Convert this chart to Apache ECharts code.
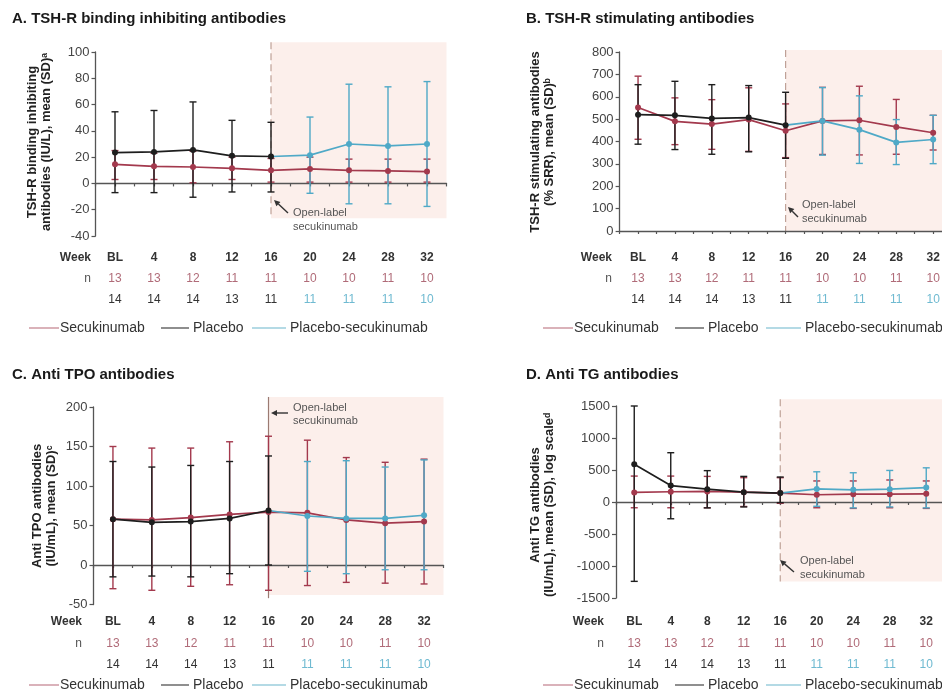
<!DOCTYPE html>
<html>
<head>
<meta charset="utf-8">
<script src="https://cdn.jsdelivr.net/npm/echarts@6/dist/echarts.min.js"></script>
<style>
html,body{margin:0;padding:0;background:#fff;}
#main{width:942px;height:692px;}
</style>
</head>
<body>
<div id="main"></div>
<script>
// ---------- shared data ----------
const weeks = [0, 4, 8, 12, 16, 20, 24, 28, 32];
const weekLabels = ['BL', '4', '8', '12', '16', '20', '24', '28', '32'];
const nSecukinumab = [13, 13, 12, 11, 11, 10, 10, 11, 10];
const nPlacebo = [14, 14, 14, 13, 11];          // weeks BL..16
const nPlaceboSecukinumab = [11, 11, 11, 10];   // weeks 20..32
const placeboWeeks = [0, 4, 8, 12, 16];
const psWeeks = [20, 24, 28, 32];

// ---------- Panel A: TSH-R binding inhibiting antibodies ----------
const aSecMean = [14.5, 13, 12.5, 11.5, 10, 11, 10, 9.5, 9];
const aSecHigh = [25, 23, 24.5, 20, 19, 20, 18.5, 18.5, 18.5];
const aSecLow = [3, 3, 0.5, 3, 1, 1, 1, 1, 1];
const aPlaMean = [23.5, 24, 25.5, 21, 20.5];
const aPlaHigh = [54.5, 55.5, 62, 48, 46.5];
const aPlaLow = [-7, -7, -10.5, -6.5, -6.5];
const aPsMean = [21.5, 30, 28.5, 30];
const aPsHigh = [50.5, 75.5, 73.5, 77.5];
const aPsLow = [-7.5, -15.5, -15.5, -17.5];
const aTicks = [-40, 100, 20];

// ---------- Panel B: TSH-R stimulating antibodies ----------
const bSecMean = [552, 490, 478, 498, 448, 492, 495, 465, 439];
const bSecHigh = [692, 595, 587, 640, 568, 642, 647, 588, 517];
const bSecLow = [410, 386, 365, 356, 328, 342, 340, 343, 362];
const bPlaMean = [520, 517, 503, 507, 473];
const bPlaHigh = [654, 669, 654, 650, 620];
const bPlaLow = [388, 364, 343, 354, 325];
const bPsMean = [492, 453, 396, 409];
const bPsHigh = [641, 604, 498, 517];
const bPsLow = [339, 302, 297, 301];
const bTicks = [0, 800, 100];

// ---------- Panel C: Anti TPO antibodies ----------
const cSecMean = [58, 57, 60, 64, 67, 66, 57, 53, 55];
const cSecHigh = [150, 148, 148, 156, 163, 158, 136, 130, 134];
const cSecLow = [-30, -32, -27, -25, -32, -26, -22, -23, -24];
const cPlaMean = [58, 54, 55, 59, 69];
const cPlaHigh = [131, 124, 126, 131, 138];
const cPlaLow = [-15, -14, -15, -11, 0];
const cPsMean = [62, 59, 59, 63];
const cPsHigh = [131, 132, 124, 133];
const cPsLow = [-8, -11, -6, -6];
const cTicks = [-50, 200, 50];

// ---------- Panel D: Anti TG antibodies ----------
const dSecMean = [149, 160, 165, 154, 139, 113, 123, 123, 128];
const dSecHigh = [405, 405, 400, 380, 380, 329, 329, 344, 329];
const dSecLow = [-90, -90, -90, -70, -20, -90, -100, -90, -100];
const dPlaMean = [590, 257, 200, 154, 139];
const dPlaHigh = [1500, 770, 490, 400, 390];
const dPlaLow = [-1240, -262, -92, -77, -10];
const dPsMean = [205, 190, 200, 226];
const dPsHigh = [472, 457, 493, 534];
const dPsLow = [-67, -92, -77, -92];
const dTicks = [-1500, 1500, 500];

// ---------- styling / layout ----------
const RED = '#a3394d', BLACK = '#1e1e1e', BLUE = '#4fa9c7';
const SHADE = '#fcefeb';
const FONT = '"Liberation Sans", Arial, sans-serif';

const panels = [
  { title: 'A. TSH-R binding inhibiting antibodies', titleX: 12, titleY: 19,
    grid: { left: 95.5, top: 52, width: 351, height: 184 }, ticks: aTicks,
    sec: [aSecMean, aSecLow, aSecHigh], pla: [aPlaMean, aPlaLow, aPlaHigh], ps: [aPsMean, aPsLow, aPsHigh],
    shade: [107.5, -26.4], lineEnd: -26.4, dashed: true,
    yName: 'TSH-R binding inhibiting\nantibodies (IU/L), mean (SD)ᵃ', yNameX: 39, yNameY: 142,
    weekRowY: 258, nRowY: 279, n2RowY: 300, legendY: 328, labelRight: 91,
    legendX: [29, 161, 252], legendLen: [30, 28, 34],
    note: { x: 293, y1: 213, y2: 227, ax1: 288, ay1: 213, ax2: 274, ay2: 200 } },
  { title: 'B. TSH-R stimulating antibodies', titleX: 526, titleY: 19,
    grid: { left: 619.6, top: 52, width: 332, height: 179 }, ticks: bTicks,
    sec: [bSecMean, bSecLow, bSecHigh], pla: [bPlaMean, bPlaLow, bPlaHigh], ps: [bPsMean, bPsLow, bPsHigh],
    shade: [809, 0], lineEnd: 0, dashed: true,
    yName: 'TSH-R stimulating antibodies\n(% SRR), mean (SD)ᵇ', yNameX: 542, yNameY: 142,
    weekRowY: 258, nRowY: 279, n2RowY: 300, legendY: 328, labelRight: 612,
    legendX: [543, 675, 766], legendLen: [30, 29, 35],
    note: { x: 802, y1: 205, y2: 219, ax1: 798, ay1: 217, ax2: 788, ay2: 207 } },
  { title: 'C. Anti TPO antibodies', titleX: 12, titleY: 375,
    grid: { left: 93.5, top: 407, width: 350, height: 197.5 }, ticks: cTicks,
    sec: [cSecMean, cSecLow, cSecHigh], pla: [cPlaMean, cPlaLow, cPlaHigh], ps: [cPsMean, cPsLow, cPsHigh],
    shade: [212.7, -38], lineEnd: -42, dashed: false,
    yName: 'Anti TPO antibodies\n(IU/mL), mean (SD)ᶜ', yNameX: 44, yNameY: 506,
    weekRowY: 622, nRowY: 644, n2RowY: 665, legendY: 685, labelRight: 82,
    legendX: [29, 161, 252], legendLen: [30, 28, 34],
    note: { x: 293, y1: 408, y2: 421, ax1: 288, ay1: 413, ax2: 271, ay2: 413 } },
  { title: 'D. Anti TG antibodies', titleX: 526, titleY: 375,
    grid: { left: 616, top: 406, width: 328.5, height: 192 }, ticks: dTicks,
    sec: [dSecMean, dSecLow, dSecHigh], pla: [dPlaMean, dPlaLow, dPlaHigh], ps: [dPsMean, dPsLow, dPsHigh],
    shade: [1607, -1243], lineEnd: -1243, dashed: true,
    yName: 'Anti TG antibodies\n(IU/mL), mean (SD), log scaleᵈ', yNameX: 542, yNameY: 505,
    weekRowY: 622, nRowY: 644, n2RowY: 665, legendY: 685, labelRight: 604,
    legendX: [543, 675, 766], legendLen: [30, 29, 35],
    note: { x: 800, y1: 561, y2: 575, ax1: 794, ay1: 572, ax2: 780, ay2: 560 } }
];

function errRender(color) {
  return function (params, api) {
    const x = api.value(0), lo = api.value(1), hi = api.value(2);
    const pLo = api.coord([x, lo]), pHi = api.coord([x, hi]);
    const w = 3.5;
    const st = { stroke: color, lineWidth: 1.4 };
    return { type: 'group', children: [
      { type: 'line', shape: { x1: pLo[0], y1: pLo[1], x2: pHi[0], y2: pHi[1] }, style: st },
      { type: 'line', shape: { x1: pLo[0] - w, y1: pLo[1], x2: pLo[0] + w, y2: pLo[1] }, style: st },
      { type: 'line', shape: { x1: pHi[0] - w, y1: pHi[1], x2: pHi[0] + w, y2: pHi[1] }, style: st }
    ]};
  };
}

const grids = [], xAxes = [], yAxes = [], series = [];
panels.forEach((p, i) => {
  grids.push(Object.assign({ containLabel: false, outerBoundsMode: 'none' }, p.grid));
  xAxes.push({
    type: 'value', gridIndex: i, min: -2, max: 34, interval: 2,
    axisLine: { onZero: true, lineStyle: { color: '#555', width: 1.3 } },
    axisTick: { show: true, inside: false, length: 3, lineStyle: { color: '#555', width: 1.2 } },
    axisLabel: { show: false }, splitLine: { show: false }
  });
  yAxes.push({
    type: 'value', gridIndex: i, min: p.ticks[0], max: p.ticks[1], interval: p.ticks[2],
    axisLine: { show: true, onZero: false, lineStyle: { color: '#555', width: 1.3 } },
    axisTick: { show: true, inside: false, length: 4, lineStyle: { color: '#555', width: 1.2 } },
    axisLabel: { color: '#444', fontSize: 13, fontFamily: FONT, margin: 6, formatter: v => String(v) },
    splitLine: { show: false }
  });
  // shaded open-label region + vertical line at week 16
  series.push({
    type: 'custom', xAxisIndex: i, yAxisIndex: i, z: 0, silent: true, clip: false,
    data: [[16, p.shade[0], p.shade[1], p.lineEnd]],
    renderItem: function (params, api) {
      const a = api.coord([api.value(0), api.value(1)]);
      const b = api.coord([34, api.value(2)]);
      const e = api.coord([api.value(0), api.value(3)]);
      return { type: 'group', children: [
        { type: 'rect', shape: { x: a[0], y: a[1], width: b[0] - a[0], height: b[1] - a[1] }, style: { fill: SHADE } },
        { type: 'line', shape: { x1: a[0], y1: a[1], x2: e[0], y2: e[1] },
          style: { stroke: p.dashed ? '#bfa197' : '#9b7a72', lineWidth: 1.2, lineDash: p.dashed ? [7, 4] : null } }
      ]};
    }
  });
  const secErr = weeks.map((w, k) => [w, p.sec[1][k], p.sec[2][k]]);
  const plaErr = placeboWeeks.map((w, k) => [w, p.pla[1][k], p.pla[2][k]]);
  const psErr = psWeeks.map((w, k) => [w, p.ps[1][k], p.ps[2][k]]);
  series.push({ type: 'custom', name: 'Secukinumab', xAxisIndex: i, yAxisIndex: i, z: 2, clip: false,
    renderItem: errRender(RED), data: secErr, encode: { x: 0, y: [1, 2] } });
  series.push({ type: 'custom', name: 'Placebo-secukinumab', xAxisIndex: i, yAxisIndex: i, z: 2, clip: false,
    renderItem: errRender(BLUE), data: psErr, encode: { x: 0, y: [1, 2] } });
  series.push({ type: 'custom', name: 'Placebo', xAxisIndex: i, yAxisIndex: i, z: 2, clip: false,
    renderItem: errRender(BLACK), data: plaErr, encode: { x: 0, y: [1, 2] } });

  const lineCommon = { type: 'line', xAxisIndex: i, yAxisIndex: i, z: 3, symbol: 'circle', symbolSize: 6,
    clip: false, lineStyle: { width: 1.7 } };
  series.push(Object.assign({}, lineCommon, { name: 'Secukinumab', color: RED,
    data: weeks.map((w, k) => [w, p.sec[0][k]]) }));
  const psLine = [{ value: [16, p.pla[0][4]], symbol: 'none' }].concat(psWeeks.map((w, k) => [w, p.ps[0][k]]));
  series.push(Object.assign({}, lineCommon, { name: 'Placebo-secukinumab', color: BLUE, data: psLine }));
  series.push(Object.assign({}, lineCommon, { name: 'Placebo', color: BLACK,
    data: placeboWeeks.map((w, k) => [w, p.pla[0][k]]) }));
});

const chart = echarts.init(document.getElementById('main'), null, { renderer: 'canvas' });
chart.setOption({
  animation: false,
  backgroundColor: '#fff',
  textStyle: { fontFamily: FONT },
  grid: grids, xAxis: xAxes, yAxis: yAxes, series: series
});

// ---------- titles, axis names, n tables, legends, annotations ----------
const graphics = [];
panels.forEach((p, i) => {
  graphics.push({ type: 'text', x: p.titleX, y: p.titleY, z: 10,
    style: { text: p.title, font: 'bold 15px ' + FONT, fill: '#1a1a1a', verticalAlign: 'middle' } });
  graphics.push({ type: 'text', x: p.yNameX, y: p.yNameY, rotation: Math.PI / 2, z: 10,
    style: { text: p.yName, font: 'bold 13px ' + FONT, fill: '#222', align: 'center', verticalAlign: 'middle', lineHeight: 14 } });
  graphics.push({ type: 'text', x: p.labelRight, y: p.weekRowY, z: 10,
    style: { text: 'Week', font: 'bold 12px ' + FONT, fill: '#333', align: 'right', verticalAlign: 'middle' } });
  graphics.push({ type: 'text', x: p.labelRight, y: p.nRowY, z: 10,
    style: { text: 'n', font: '12px ' + FONT, fill: '#555', align: 'right', verticalAlign: 'middle' } });
  weeks.forEach((w, k) => {
    const px = chart.convertToPixel({ gridIndex: i }, [w, 0])[0];
    graphics.push({ type: 'text', x: px, y: p.weekRowY, z: 10,
      style: { text: weekLabels[k], font: 'bold 12px ' + FONT, fill: '#333', align: 'center', verticalAlign: 'middle' } });
    graphics.push({ type: 'text', x: px, y: p.nRowY, z: 10,
      style: { text: String(nSecukinumab[k]), font: '12px ' + FONT, fill: '#b06b78', align: 'center', verticalAlign: 'middle' } });
    const isPs = k >= 5;
    const nv = isPs ? nPlaceboSecukinumab[k - 5] : nPlacebo[k];
    graphics.push({ type: 'text', x: px, y: p.n2RowY, z: 10,
      style: { text: String(nv), font: '12px ' + FONT, fill: isPs ? '#6fbad1' : '#333', align: 'center', verticalAlign: 'middle' } });
  });
  const legItems = [['Secukinumab', '#c27f8b'], ['Placebo', '#444'], ['Placebo-secukinumab', '#6bb5cc']];
  legItems.forEach((it, k) => {
    const x0 = p.legendX[k], len = p.legendLen[k];
    graphics.push({ type: 'line', z: 10, shape: { x1: x0, y1: p.legendY, x2: x0 + len, y2: p.legendY },
      style: { stroke: it[1], lineWidth: 1.2 } });
    graphics.push({ type: 'text', x: x0 + len + (k === 0 ? 1 : 4), y: p.legendY, z: 10,
      style: { text: it[0], font: '14px ' + FONT, fill: '#333', verticalAlign: 'middle' } });
  });
  const n = p.note;
  graphics.push({ type: 'text', x: n.x, y: n.y1, z: 10,
    style: { text: 'Open-label', font: '11px ' + FONT, fill: '#555', verticalAlign: 'middle' } });
  graphics.push({ type: 'text', x: n.x, y: n.y2, z: 10,
    style: { text: 'secukinumab', font: '11px ' + FONT, fill: '#555', verticalAlign: 'middle' } });
  const ang = Math.atan2(n.ay2 - n.ay1, n.ax2 - n.ax1);
  const hl = 6, hw = 3;
  const bx = n.ax2 - hl * Math.cos(ang), by = n.ay2 - hl * Math.sin(ang);
  graphics.push({ type: 'line', z: 10, shape: { x1: n.ax1, y1: n.ay1, x2: bx, y2: by },
    style: { stroke: '#333', lineWidth: 1.4 } });
  graphics.push({ type: 'polygon', z: 10, shape: { points: [
    [n.ax2, n.ay2],
    [bx + hw * Math.sin(ang), by - hw * Math.cos(ang)],
    [bx - hw * Math.sin(ang), by + hw * Math.cos(ang)]
  ] }, style: { fill: '#333' } });
});
chart.setOption({ graphic: graphics });
</script>
</body>
</html>
